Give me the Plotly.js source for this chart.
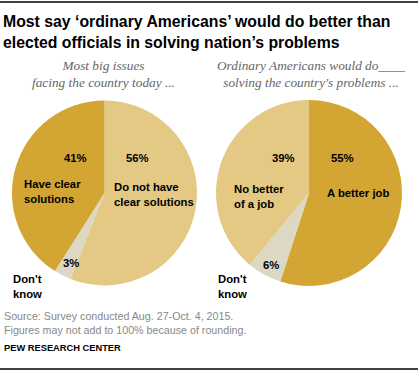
<!DOCTYPE html>
<html>
<head>
<meta charset="utf-8">
<script src="https://cdn.plot.ly/plotly-3.0.1.min.js"></script>
<style>html,body{margin:0;padding:0;background:#fff;}#chart{width:420px;height:376px;}</style>
</head>
<body>
<div id="chart"></div>
<script>
// Data
const leftLabels = ["Do not have<br>clear solutions", "Don't<br>know", "Have clear<br>solutions"];
const leftValues = [56, 3, 41];
const rightLabels = ["A better job", "Don't<br>know", "No better<br>of a job"];
const rightValues = [55, 6, 39];
const leftColors = ["#E3C984", "#DCD8C4", "#D3A633"];
const rightColors = ["#D3A633", "#DCD8C4", "#E3C984"];
const leftSubtitle = "Most big issues<br>facing the country today ...";
const rightSubtitle = "Ordinary Americans would do____<br>solving the country's problems ...";
const titleText = "Most say \u2018ordinary Americans\u2019 would do better than<br>elected officials in solving nation\u2019s problems";

const W = 420, H = 376;
const px = x => x / W;
const py = y => 1 - y / H;

const sansFont = "'Liberation Sans', Arial, sans-serif";
const serifFont = "'Liberation Serif', 'DejaVu Serif', serif";

const traces = [
  {
    type: "pie", values: leftValues, labels: leftLabels, sort: false,
    direction: "clockwise", rotation: 0, textinfo: "none", hoverinfo: "skip",
    marker: {colors: leftColors, line: {width: 0}},
    domain: {x: [px(12), px(197)], y: [py(285.5), py(100.5)]}, showlegend: false
  },
  {
    type: "pie", values: rightValues, labels: rightLabels, sort: false,
    direction: "clockwise", rotation: 0, textinfo: "none", hoverinfo: "skip",
    marker: {colors: rightColors, line: {width: 0}},
    domain: {x: [px(216), px(402)], y: [py(286), py(100)]}, showlegend: false
  }
];

function ann(text, x, y, opts) {
  return Object.assign({
    text: text, xref: "paper", yref: "paper", x: px(x), y: py(y),
    showarrow: false, xanchor: "left", yanchor: "middle", align: "left",
    font: {family: sansFont, size: 11.3, color: "#000", weight: "bold"}
  }, opts || {});
}

const annotations = [
  // Title
  ann(titleText, 1, 32, {font: {family: sansFont, size: 15.8, color: "#000", weight: "bold"}}),
  // Subtitles
  ann(leftSubtitle, 103, 74, {xanchor: "center", align: "center", font: {family: serifFont, size: 13.3, color: "#666", style: "italic"}}),
  ann(rightSubtitle, 311, 74, {xanchor: "center", align: "center", font: {family: serifFont, size: 13.3, color: "#666", style: "italic"}}),
  // Left pie labels
  ann(leftValues[2] + "%", 62, 158),
  ann(leftValues[0] + "%", 124, 158),
  ann(leftLabels[2], 22, 192),
  ann(leftLabels[0], 112, 194),
  ann(leftValues[1] + "%", 61, 263),
  ann(leftLabels[1], 11, 286),
  // Right pie labels
  ann(rightValues[2] + "%", 270, 158),
  ann(rightValues[0] + "%", 329, 158),
  ann(rightLabels[2], 232, 196),
  ann(rightLabels[0], 325, 193),
  ann(rightValues[1] + "%", 261, 265),
  ann(rightLabels[1], 216, 286),
  // Footer
  ann("Source: Survey conducted Aug. 27-Oct. 4, 2015.<br>Figures may not add to 100% because of rounding.", 2, 323,
      {font: {family: sansFont, size: 10.7, color: "#888", weight: "normal"}}),
  ann("PEW RESEARCH CENTER", 2, 348, {font: {family: sansFont, size: 9.3, color: "#000", weight: "bold"}})
];

const shapes = [
  {type: "line", xref: "paper", yref: "paper", x0: 0, x1: px(418), y0: py(2), y1: py(2), line: {color: "#000", width: 1.5}},
  {type: "line", xref: "paper", yref: "paper", x0: 0, x1: px(418), y0: py(369), y1: py(369), line: {color: "#000", width: 1.5}}
];

const layout = {
  width: W, height: H, margin: {l: 0, r: 0, t: 0, b: 0},
  paper_bgcolor: "#fff", plot_bgcolor: "#fff", showlegend: false,
  annotations: annotations, shapes: shapes
};

Plotly.newPlot("chart", traces, layout, {displayModeBar: false, staticPlot: true});
</script>
</body>
</html>
